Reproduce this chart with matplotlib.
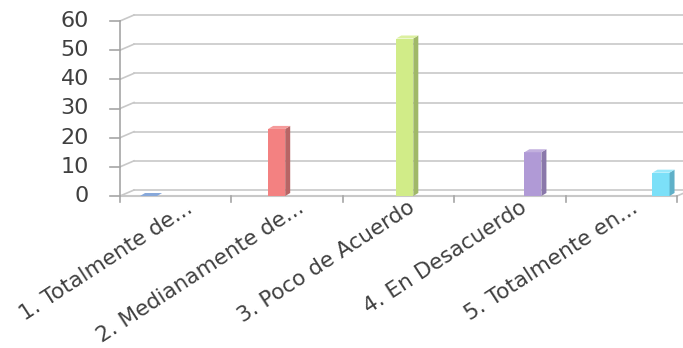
import matplotlib
matplotlib.use("Agg")
import matplotlib.pyplot as plt
from matplotlib.transforms import offset_copy
from matplotlib.patches import Polygon
import numpy as np

categories = ["1. Totalmente de...", "2. Medianamente de...", "3. Poco de Acuerdo",
              "4. En Desacuerdo", "5. Totalmente en..."]
values = [0, 23, 54, 15, 8]
colors = ["#6d93cf", "#f38181", "#d1ec88", "#b09ad6", "#7ce0f8"]
side_colors = ["#5a7bb0", "#b86565", "#a0b868", "#8a78aa", "#5fb0c8"]
top_colors = ["#87a8da", "#f59a9a", "#dcf0a0", "#c2b0de", "#9ae8fa"]
yticks = [0, 10, 20, 30, 40, 50, 60]

W, H = 683, 348
fig = plt.figure(figsize=(W / 100, H / 100), dpi=100)
x0, x1, y0, y1 = 120, 677, 196, 21
ax = fig.add_axes([x0 / W, (H - y0) / H, (x1 - x0) / W, (y0 - y1) / H])
ax.set_xlim(0, 5)
ax.set_ylim(0, 60)
ax.set_axis_off()

grid_c = "#c8c8c8"
axis_c = "#a6a6a6"
text_c = "#404040"
DX, DY = 14, 6  # wall depth in pixels
back = offset_copy(ax.transData, fig=fig, x=DX, y=DY, units="dots")

# back wall gridlines and diagonal connectors
for t in yticks:
    ax.plot([0, 5], [t, t], color=grid_c, lw=1.2, transform=back, clip_on=False)
    p0 = ax.transData.transform((0, t))
    p1 = back.transform((0, t))
    ax.plot([p0[0], p1[0]], [p0[1], p1[1]], color=grid_c, lw=1.2,
            transform=None, clip_on=False)
# floor front edge and right diagonal
ax.plot([0, 5], [0, 0], color=grid_c, lw=1.5, clip_on=False)
p0 = ax.transData.transform((5, 0)); p1 = back.transform((5, 0))
ax.plot([p0[0], p1[0]], [p0[1], p1[1]], color=grid_c, lw=1.2, transform=None, clip_on=False)

# front left axis line and ticks
ax.plot([0, 0], [0, 60], color=axis_c, lw=1.2, clip_on=False)
for t in yticks:
    p = ax.transData.transform((0, t))
    ax.plot([p[0] - 10, p[0]], [p[1], p[1]], color=axis_c, lw=1.2, transform=None, clip_on=False)
    ax.text(p[0] - 31, p[1], str(t), ha="right", va="center", fontsize=16,
            color=text_c, transform=None)
for i in range(6):
    p = ax.transData.transform((i, 0))
    ax.plot([p[0], p[0]], [p[1], p[1] - 6], color=axis_c, lw=1.2, transform=None, clip_on=False)

# bars with fake 3D depth
bw = 0.153
bdx, bdy = 5, 3
for j, v in enumerate(values):
    left = j + 0.18 + j * 0.15
    ax.bar(left, v, width=bw, align="edge", color=colors[j], edgecolor="none",
           zorder=5, clip_on=False)
    br = ax.transData.transform((left + bw, 0))
    tr = ax.transData.transform((left + bw, v))
    tl = ax.transData.transform((left, v))
    side = [br, tr, tr + (bdx, bdy), br + (bdx, bdy)]
    top = [tl, tr, tr + (bdx, bdy), tl + (bdx, bdy)]
    if v > 0:
        ax.add_patch(Polygon(side, closed=True, transform=None, facecolor=side_colors[j],
                             edgecolor="none", zorder=5, clip_on=False))
    ax.add_patch(Polygon(top, closed=True, transform=None, facecolor=top_colors[j],
                         edgecolor="none", zorder=6, clip_on=False))

# category labels, rotated
for i, c in enumerate(categories):
    p = ax.transData.transform((i + 0.5, 0))
    ax.text(p[0] + 18, p[1] - 15, c, rotation=33, ha="right", va="baseline",
            rotation_mode="anchor", fontsize=15.5, color=text_c, transform=None)

fig.savefig("out.png", dpi=100)
